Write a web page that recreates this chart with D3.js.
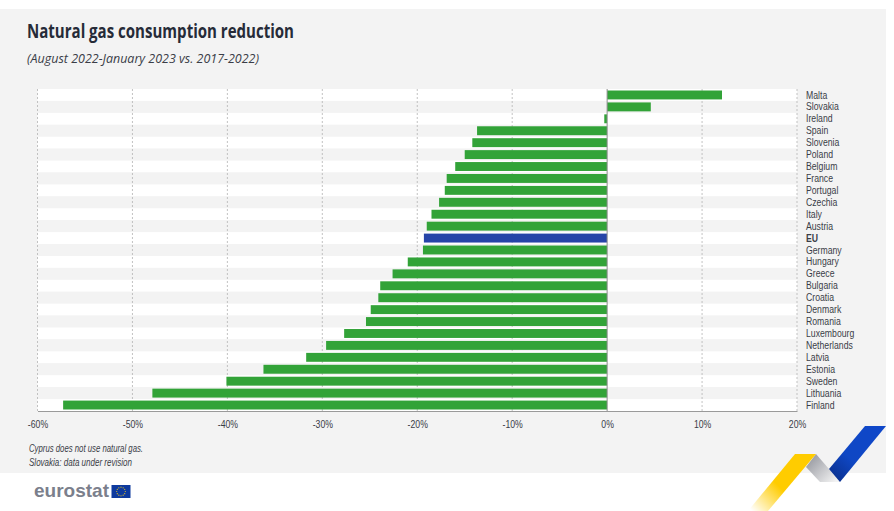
<!DOCTYPE html>
<html>
<head>
<meta charset="utf-8">
<script src="https://cdn.jsdelivr.net/npm/d3@7"></script>
<style>
  html, body { margin: 0; padding: 0; background: #fff; }
  svg { display: block; }
  text { font-family: "Open Sans", sans-serif; }
</style>
</head>
<body>
<div class="chart"></div>
<script>
// Data
const countries = ['Malta', 'Slovakia', 'Ireland', 'Spain', 'Slovenia', 'Poland', 'Belgium', 'France', 'Portugal',
  'Czechia', 'Italy', 'Austria', 'EU', 'Germany', 'Hungary', 'Greece', 'Bulgaria', 'Croatia', 'Denmark',
  'Romania', 'Luxembourg', 'Netherlands', 'Latvia', 'Estonia', 'Sweden', 'Lithuania', 'Finland'];
const reduction = [12.1, 4.6, -0.3, -13.7, -14.2, -15, -16, -16.9, -17.1, -17.7, -18.5, -19, -19.3, -19.4, -21,
  -22.6, -23.9, -24.1, -24.9, -25.4, -27.7, -29.6, -31.7, -36.2, -40.1, -47.9, -57.3];
const xTicks = [-60, -50, -40, -30, -20, -10, 0, 10, 20];
const footnotes = ['Cyprus does not use natural gas.', 'Slovakia: data under revision'];

const margin = { top: 89, right: 97, bottom: 100, left: 37.5 };
const width = 894 - margin.left - margin.right;
const height = 511 - margin.top - margin.bottom;
const squeeze = 0.79; // the original font is condensed, none is installed
const labelFont = '"Liberation Sans", sans-serif';

const root = d3.select('.chart').append('svg')
  .attr('width', 894)
  .attr('height', 511);

// Grey panel behind the chart
root.append('rect')
  .attr('x', 0).attr('y', 9)
  .attr('width', 886).attr('height', 464)
  .attr('fill', '#f3f3f3');

root.append('text')
  .attr('x', 27).attr('y', 38)
  .attr('font-size', 20).attr('font-weight', 700)
  .attr('fill', '#262b38')
  .attr('textLength', 267).attr('lengthAdjust', 'spacingAndGlyphs')
  .text('Natural gas consumption reduction');

root.append('text')
  .attr('x', 27).attr('y', 63)
  .attr('font-size', 13.5).attr('font-style', 'italic')
  .attr('fill', '#3a3d47')
  .attr('textLength', 232).attr('lengthAdjust', 'spacingAndGlyphs')
  .text('(August 2022-January 2023 vs. 2017-2022)');

const svg = root.append('g')
  .attr('transform', `translate(${margin.left},${margin.top})`);

// Scales
const x = d3.scaleLinear().domain([-60, 20]).range([0, width]);
const y = d3.scaleBand().domain(countries).range([0, height]).paddingInner(0).paddingOuter(0);
const barPad = 1.5;

// Row stripes
svg.selectAll('.row')
  .data(countries)
  .enter().append('rect')
  .attr('class', 'row')
  .attr('x', 0)
  .attr('y', d => y(d))
  .attr('width', width)
  .attr('height', y.bandwidth())
  .attr('fill', (d, i) => i % 2 === 0 ? '#ffffff' : '#f3f3f3');

// Grid lines
svg.selectAll('.grid')
  .data(xTicks.filter(d => d !== 0))
  .enter().append('line')
  .attr('class', 'grid')
  .attr('x1', d => x(d)).attr('x2', d => x(d))
  .attr('y1', 0).attr('y2', height)
  .attr('stroke', '#b4b4b4')
  .attr('stroke-width', 0.8)
  .attr('stroke-dasharray', '2,2');

// Bars
svg.selectAll('.bar')
  .data(countries)
  .enter().append('rect')
  .attr('class', 'bar')
  .attr('x', (d, i) => x(Math.min(0, reduction[i])))
  .attr('y', d => y(d) + barPad)
  .attr('width', (d, i) => Math.abs(x(reduction[i]) - x(0)))
  .attr('height', y.bandwidth() - barPad * 2)
  .attr('fill', d => d === 'EU' ? '#2644a8' : '#32a338');

// Zero line
svg.append('line')
  .attr('x1', x(0)).attr('x2', x(0))
  .attr('y1', 0).attr('y2', height)
  .attr('stroke', '#8c8c8c')
  .attr('stroke-width', 1);

// X axis
const xAxis = svg.append('g')
  .attr('transform', `translate(0,${height})`)
  .call(d3.axisBottom(x).tickValues(xTicks).tickFormat(d => d + '%').tickSize(0).tickPadding(9));
xAxis.select('.domain').attr('stroke', '#9a9a9a').attr('stroke-width', 1.2);
xAxis.selectAll('text')
  .attr('font-size', 11).attr('fill', '#3a3d47')
  .attr('transform', `scale(${squeeze},1)`)
  .style('font-family', labelFont);

// Country labels on the right
const yAxis = svg.append('g')
  .attr('transform', `translate(${width},0)`)
  .call(d3.axisRight(y).tickSize(0).tickPadding(9));
yAxis.select('.domain').remove();
yAxis.selectAll('text')
  .attr('font-size', 11).attr('fill', '#3a3d47')
  .attr('font-weight', d => d === 'EU' ? 700 : 400)
  .attr('x', 9 / squeeze)
  .attr('transform', `scale(${squeeze},1)`)
  .style('font-family', labelFont);

// Footnotes
root.selectAll('.note')
  .data(footnotes)
  .enter().append('text')
  .attr('class', 'note')
  .attr('x', 29)
  .attr('y', (d, i) => 451.5 + i * 14)
  .attr('font-size', 10.5).attr('font-style', 'italic')
  .attr('fill', '#3a3d47')
  .attr('textLength', (d, i) => i === 0 ? 114 : 103)
  .attr('lengthAdjust', 'spacingAndGlyphs')
  .style('font-family', labelFont)
  .text(d => d);

// Eurostat logo
root.append('text')
  .attr('x', 34).attr('y', 497)
  .attr('font-size', 18.5).attr('font-weight', 700)
  .attr('fill', '#7b7f8c')
  .attr('textLength', 75).attr('lengthAdjust', 'spacingAndGlyphs')
  .style('font-family', labelFont)
  .text('eurostat');

root.append('rect')
  .attr('x', 111.5).attr('y', 485)
  .attr('width', 19).attr('height', 13)
  .attr('fill', '#0e3a9e');

root.selectAll('.star')
  .data(d3.range(12))
  .enter().append('circle')
  .attr('class', 'star')
  .attr('cx', d => 121 + 4.3 * Math.cos(d * Math.PI / 6))
  .attr('cy', d => 491.5 + 4.3 * Math.sin(d * Math.PI / 6))
  .attr('r', 0.6)
  .attr('fill', '#e8c423');

// Ribbon in the corner
const defs = root.append('defs');
function gradient(id, x1, y1, x2, y2, stops) {
  const g = defs.append('linearGradient').attr('id', id)
    .attr('gradientUnits', 'userSpaceOnUse')
    .attr('x1', x1).attr('y1', y1).attr('x2', x2).attr('y2', y2);
  stops.forEach(s => g.append('stop').attr('offset', s[0]).attr('stop-color', s[1]).attr('stop-opacity', s[2]));
}
gradient('ribbonYellow', 800, 465, 752, 511, [[0, '#ffcc00', 1], [0.45, '#ffcc00', 1], [1, '#ffcc00', 0]]);
gradient('ribbonGrey', 810, 458, 835, 482, [[0, '#9a9ca3', 1], [1, '#f3f3f3', 1]]);
gradient('ribbonBlue', 880, 428, 832, 480, [[0, '#0f47c9', 1], [0.6, '#0f47c4', 1], [1, '#0a2f8c', 1]]);

const ribbons = [
  { fill: 'url(#ribbonGrey)', points: [[816, 454], [806, 467], [820, 482], [840, 482], [829, 469]] },
  { fill: 'url(#ribbonYellow)', points: [[795, 454], [816, 454], [768, 511], [748, 511]] },
  { fill: 'url(#ribbonBlue)', points: [[865, 426], [886, 426], [840, 482], [829, 469]] }
];
root.selectAll('.ribbon')
  .data(ribbons)
  .enter().append('polygon')
  .attr('class', 'ribbon')
  .attr('points', d => d.points.join(' '))
  .attr('fill', d => d.fill);
</script>
</body>
</html>
